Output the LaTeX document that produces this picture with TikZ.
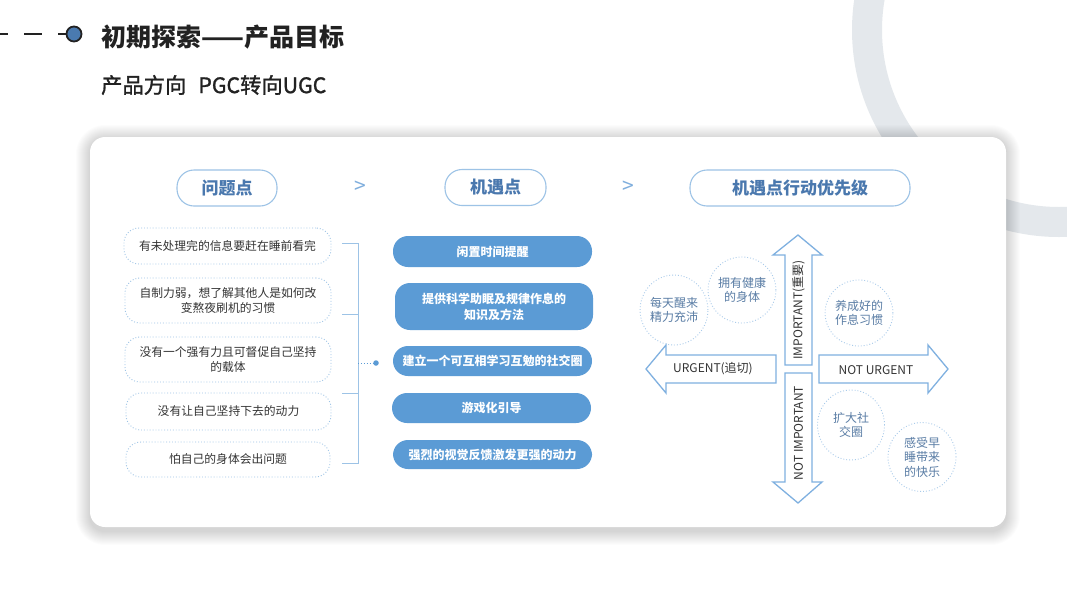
\documentclass[tikz,border=0pt]{standalone}
\usepackage{fontspec}
\setmainfont{Noto Sans CJK SC}
\newfontfamily\medfont{Noto Sans CJK SC}[FakeBold=1.3]
\usetikzlibrary{shapes.geometric}
\definecolor{ringc}{HTML}{E4E8EC}
\definecolor{darkc}{HTML}{222222}
\definecolor{dotblue}{HTML}{4A7AB0}
\definecolor{hdrline}{HTML}{9DC3E6}
\definecolor{hdrtext}{HTML}{4A78AE}
\definecolor{gtc}{HTML}{7FAEDD}
\definecolor{probline}{HTML}{9DC3E6}
\definecolor{probtext}{HTML}{333333}
\definecolor{oppblue}{HTML}{5B9BD5}
\definecolor{arrline}{HTML}{7FB0E0}
\definecolor{bubline}{HTML}{A9CBEA}
\definecolor{bubtext}{HTML}{5A7DA5}
\tikzset{
  hdr/.style={draw=hdrline, line width=1.1pt, rounded corners=17pt, text=hdrtext,
    font=\fontsize{17}{20}\selectfont\bfseries, minimum height=36pt, inner sep=0pt},
  gtsign/.style={text=gtc, font=\fontsize{21}{24}\selectfont, inner sep=0pt},
  prob/.style={draw=probline, dotted, line width=0.9pt, rounded corners=15pt, text=probtext,
    font=\fontsize{11.8}{14.5}\selectfont, align=center, inner sep=0pt},
  opp/.style={fill=oppblue, rounded corners=15pt, text=white,
    font=\fontsize{12}{16}\selectfont\bfseries, align=center, inner sep=0pt},
  brk/.style={draw=hdrline, line width=0.9pt},
  qarrow/.style={draw=arrline, line width=1.3pt, fill=white, line join=miter},
  qlabel/.style={text=probtext, font=\fontsize{12}{14}\selectfont, inner sep=0pt},
  bub/.style={ellipse, draw=bubline, dotted, line width=0.9pt, text=bubtext,
    font=\fontsize{12}{14.5}\selectfont, align=center, inner sep=0pt},
}
\begin{document}
\begin{tikzpicture}[x=1pt,y=-1pt]
\useasboundingbox (0,0) rectangle (1067,600);
\fill[white] (0,0) rectangle (1067,600);
% background ring
\begin{scope}
\clip (0,0) rectangle (1067,600);
\draw[ringc, line width=30pt] (1059,30) circle (192pt);
\end{scope}
% card shadow (layered)
\foreach \s in {1,2,...,14} {
  \fill[black, opacity=0.011, rounded corners={15pt+\s pt}]
    ({90-\s},{139-\s}) rectangle ({1006+\s},{531+\s});
}
% card
\node[fill=white, rounded corners=15pt, minimum width=916pt, minimum height=390pt, inner sep=0pt]
  (card) at (548,332) {};
% top-left decoration
\coordinate (d1a) at (0,34); \coordinate (d1b) at (8,34);
\coordinate (d2a) at (24,34); \coordinate (d2b) at (42,34);
\coordinate (d3a) at (58,34);
\node[circle, fill=dotblue, draw=darkc, line width=1.8pt, minimum size=15pt, inner sep=0pt] (dot0) at (74,34) {};
\draw[darkc, line width=1.8pt] (d1a) -- (d1b) (d2a) -- (d2b) (d3a) -- (dot0.west);
\node[anchor=west, text=darkc, font=\fontsize{25}{28}\selectfont\bfseries, inner sep=0pt] (title) at (101,37) {初期探索——产品目标};
\node[anchor=west, text=darkc, font=\fontsize{21.3}{24}\selectfont\medfont, inner sep=0pt] (subtitle) at (101,85) {产品方向\hspace{12pt}PGC转向UGC};
% headers
\node[hdr, minimum width=100pt] (h1) at (227,188) {问题点};
\node[hdr, minimum width=101pt] (h2) at (495.5,187.5) {机遇点};
\node[hdr, minimum width=220pt] (h3) at (800,188) {机遇点行动优先级};
\node[gtsign] (gt1) at (360,187) {>};
\node[gtsign] (gt2) at (628,187) {>};
% problem boxes
\node[prob, minimum width=207pt, minimum height=36pt] (p1) at (227.5,246) {有未处理完的信息要赶在睡前看完};
\node[prob, minimum width=206pt, minimum height=45pt] (p2) at (228,300.5) {自制力弱，想了解其他人是如何改\\变熬夜刷机的习惯};
\node[prob, minimum width=206pt, minimum height=45pt] (p3) at (228,359.5) {没有一个强有力且可督促自己坚持\\的载体};
\node[prob, minimum width=205pt, minimum height=37pt] (p4) at (228.5,411.5) {没有让自己坚持下去的动力};
\node[prob, minimum width=204pt, minimum height=35pt] (p5) at (228,459.5) {怕自己的身体会出问题};
% bracket
\coordinate (t1) at (342,243); \coordinate (v1) at (358,243);
\coordinate (t2) at (342,314); \coordinate (v2) at (358,314);
\coordinate (t3) at (342,393); \coordinate (v3) at (358,393);
\coordinate (t4) at (342,463); \coordinate (v4) at (358,463);
\coordinate (vm) at (358,363);
\draw[brk] (t1) -- (v1) -- (v4) -- (t4) (t2) -- (v2) (t3) -- (v3);
\node[circle, fill=oppblue, minimum size=5.5pt, inner sep=0pt] (bdot) at (376,363) {};
\draw[draw=oppblue, dotted, line width=0.9pt] (vm) -- (bdot);
% opportunity pills
\node[opp, minimum width=199pt, minimum height=31pt] (o1) at (492.5,251.5) {闲置时间提醒};
\node[opp, minimum width=198pt, minimum height=47pt] (o2) at (494,306.5) {提供科学助眠及规律作息的\\知识及方法};
\node[opp, minimum width=199pt, minimum height=30pt] (o3) at (492.5,361) {建立一个可互相学习互勉的社交圈};
\node[opp, minimum width=199pt, minimum height=30pt] (o4) at (491.5,408) {游戏化引导};
\node[opp, minimum width=199pt, minimum height=29pt] (o5) at (492.5,454.5) {强烈的视觉反馈激发更强的动力};
% quadrant arrows
\draw[qarrow] (785,365) -- (785,255) -- (773,255) -- (798,235) -- (822,255) -- (812,255) -- (812,365) -- cycle;
\draw[qarrow] (785,373) -- (785,482) -- (773,482) -- (798,503) -- (822,482) -- (812,482) -- (812,373) -- cycle;
\draw[qarrow] (776,355) -- (666,355) -- (666,345) -- (646,369) -- (666,393) -- (666,383) -- (776,383) -- cycle;
\draw[qarrow] (819,355) -- (928,355) -- (928,345) -- (948,369) -- (928,393) -- (928,383) -- (819,383) -- cycle;
\node[qlabel, rotate=90] (imp) at (798.5,310) {IMPORTANT(重要)};
\node[qlabel, rotate=90] (notimp) at (798.5,433) {NOT IMPORTANT};
\node[qlabel] (urg) at (713,369) {URGENT(追切)};
\node[qlabel] (noturg) at (876,370) {NOT URGENT};
% bubbles
\node[bub, minimum width=59pt, minimum height=70pt] (c1) at (674,310) {每天醒来\\精力充沛};
\node[bub, minimum width=59pt, minimum height=66pt] (c2) at (742,290) {拥有健康\\的身体};
\node[bub, minimum width=66pt, minimum height=66pt] (c3) at (859,313) {养成好的\\作息习惯};
\node[bub, minimum width=67pt, minimum height=70pt] (c4) at (851,425) {扩大社\\交圈};
\node[bub, minimum width=68pt, minimum height=69pt] (c5) at (922,457) {感受早\\睡带来\\的快乐};
\end{tikzpicture}
\end{document}
